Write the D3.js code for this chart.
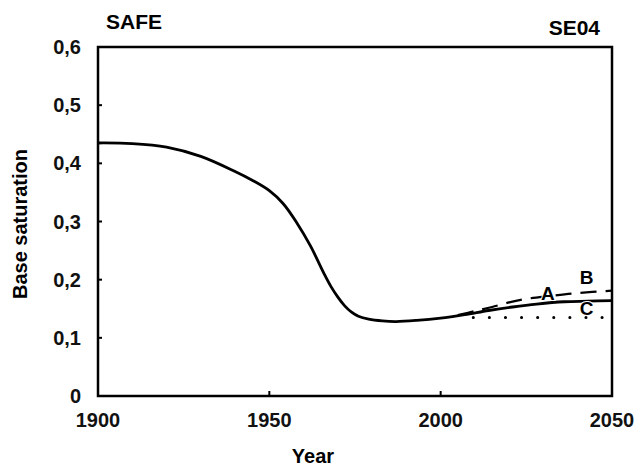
<!DOCTYPE html>
<html lang="en">
<head>
  <meta charset="UTF-8">
  <title>SAFE SE04 base saturation</title>
  <style>
    body { margin: 0; background: #fff; }
    svg { font-family: 'Liberation Sans', Arial, sans-serif; }
    .tick-label { font-size: 20px; font-weight: bold; fill: #111; }
  </style>
</head>
<body>
  <div id="chart"></div>
  <script src="https://d3js.org/d3.v7.min.js"></script>
  <script>
    // Historic + scenario curve (solid)
    const years = [1900, 1910, 1920, 1930, 1940, 1945, 1950, 1954, 1958, 1962, 1966, 1968, 1970, 1972, 1974, 1976, 1979, 1983, 1987, 1993, 2000, 2007, 2014, 2021, 2028, 2036, 2043, 2050];
    const baseSat = [0.435, 0.434, 0.428, 0.412, 0.386, 0.371, 0.353, 0.331, 0.298, 0.258, 0.210, 0.188, 0.170, 0.155, 0.144, 0.137, 0.132, 0.129, 0.128, 0.130, 0.134, 0.140, 0.147, 0.153, 0.158, 0.162, 0.163, 0.164];
    // Scenario A (dashed)
    const yearsA = [2005, 2010, 2015, 2020, 2025, 2032, 2040, 2050];
    const valuesA = [0.139, 0.146, 0.153, 0.161, 0.167, 0.172, 0.177, 0.181];
    // Scenario C (dotted)
    const yearsC = [2009.5, 2050];
    const valuesC = [0.135, 0.135];
    const xTicks = [1900, 1950, 2000, 2050];
    const yTicks = [0, 0.1, 0.2, 0.3, 0.4, 0.5, 0.6];

    const width = 636, height = 471;
    const margin = { top: 47, right: 24, bottom: 75, left: 98 };

    const svg = d3.select('#chart').append('svg')
      .attr('width', width)
      .attr('height', height);

    const x = d3.scaleLinear().domain([1900, 2050]).range([margin.left, width - margin.right]);
    const y = d3.scaleLinear().domain([0, 0.6]).range([height - margin.bottom, margin.top]);

    // frame
    svg.append('rect')
      .attr('x', x(1900)).attr('y', y(0.6))
      .attr('width', x(2050) - x(1900)).attr('height', y(0) - y(0.6))
      .attr('fill', 'none').attr('stroke', '#000').attr('stroke-width', 2.5);

    // y ticks (inward) and labels
    yTicks.forEach(t => {
      svg.append('line')
        .attr('x1', x(1900)).attr('x2', x(1900) + 4)
        .attr('y1', y(t)).attr('y2', y(t))
        .attr('stroke', '#000').attr('stroke-width', 2);
      svg.append('text')
        .attr('class', 'tick-label')
        .attr('x', 81).attr('y', y(t) + 7)
        .attr('text-anchor', 'end')
        .text(t === 0 ? '0' : d3.format('.1f')(t).replace('.', ','));
    });

    // x ticks (inward) and labels
    xTicks.forEach(t => {
      svg.append('line')
        .attr('x1', x(t)).attr('x2', x(t))
        .attr('y1', y(0)).attr('y2', y(0) - 5)
        .attr('stroke', '#000').attr('stroke-width', 2);
      svg.append('text')
        .attr('class', 'tick-label')
        .attr('x', x(t)).attr('y', 427)
        .attr('text-anchor', 'middle')
        .text(t);
    });

    // axis titles
    svg.append('text')
      .attr('x', 313).attr('y', 463)
      .attr('text-anchor', 'middle')
      .attr('font-size', 20).attr('font-weight', 'bold')
      .text('Year');

    svg.append('text')
      .attr('transform', 'translate(27,224) rotate(-90)')
      .attr('text-anchor', 'middle')
      .attr('font-size', 20).attr('font-weight', 'bold')
      .text('Base saturation');

    svg.append('text')
      .attr('x', 106).attr('y', 29)
      .attr('font-size', 21).attr('font-weight', 'bold')
      .text('SAFE');

    svg.append('text')
      .attr('x', 600).attr('y', 35)
      .attr('text-anchor', 'end')
      .attr('font-size', 21).attr('font-weight', 'bold')
      .text('SE04');

    const line = d3.line()
      .x(d => x(d[0]))
      .y(d => y(d[1]))
      .curve(d3.curveCatmullRom.alpha(0.5));

    // dotted C
    svg.append('path')
      .datum(d3.zip(yearsC, valuesC))
      .attr('d', line)
      .attr('fill', 'none').attr('stroke', '#000')
      .attr('stroke-width', 3)
      .attr('stroke-linecap', 'round')
      .attr('stroke-dasharray', '0.1 16');

    // dashed A
    svg.append('path')
      .datum(d3.zip(yearsA, valuesA))
      .attr('d', line)
      .attr('fill', 'none').attr('stroke', '#000')
      .attr('stroke-width', 2.2)
      .attr('stroke-dasharray', '16 9');

    // solid curve
    svg.append('path')
      .datum(d3.zip(years, baseSat))
      .attr('d', line)
      .attr('fill', 'none').attr('stroke', '#000')
      .attr('stroke-width', 2.8)
      .attr('stroke-linejoin', 'round');

    // scenario labels
    const lab = (txt, yr, v) => svg.append('text')
      .attr('x', x(yr)).attr('y', y(v))
      .attr('text-anchor', 'middle')
      .attr('font-size', 19).attr('font-weight', 'bold')
      .attr('stroke', '#fff').attr('stroke-width', 2).attr('paint-order', 'stroke')
      .text(txt);
    lab('A', 2031.3, 0.165);
    lab('B', 2042.6, 0.1925);
    lab('C', 2042.6, 0.139);
  </script>
</body>
</html>
